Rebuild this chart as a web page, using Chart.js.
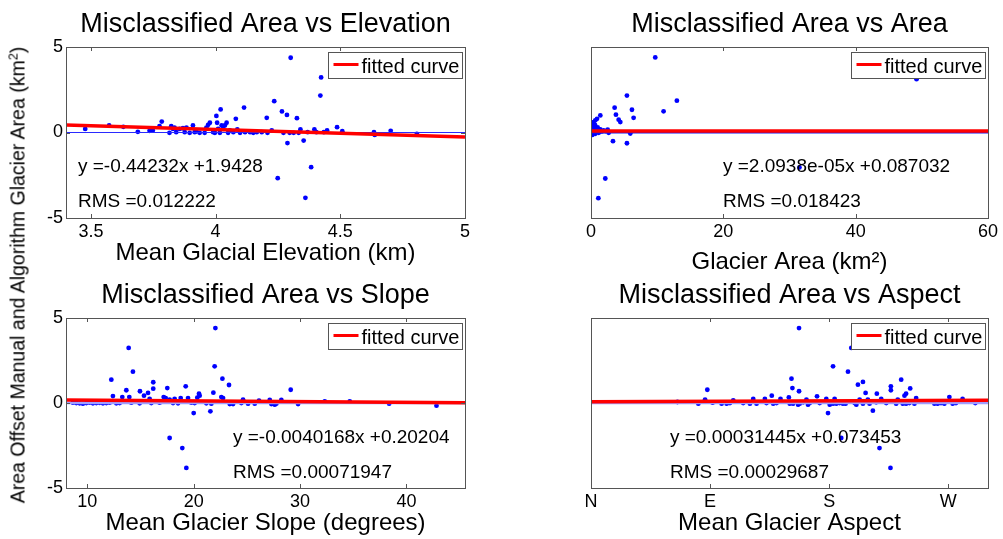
<!DOCTYPE html>
<html lang="en">
<head>
    <meta charset="UTF-8">
    <title>Misclassified Area</title>
    <script src="https://cdn.jsdelivr.net/npm/chart.js"></script>
    <style>
        body {
            margin: 0;
            background: #fff;
            font-family: "Liberation Sans", Arial, sans-serif;
        }
        .page {
            position: relative;
            width: 1003px;
            height: 539px;
            overflow: hidden;
        }
        .page canvas {
            position: absolute;
            left: 0;
            top: 0;
        }
        .ylabel {
            position: absolute;
            left: 18px;
            top: 275px;
            transform: translate(-50%, -50%) rotate(-90deg);
            white-space: nowrap;
            font-size: 19.5px;
            color: #000;
        }
        .ylabel sup { font-size: 0.65em; line-height: 0; }
    </style>
</head>
<body>
<div class="page">
    <canvas id="elev" width="1003" height="539"></canvas>
    <canvas id="area" width="1003" height="539"></canvas>
    <canvas id="slope" width="1003" height="539"></canvas>
    <canvas id="aspect" width="1003" height="539"></canvas>
    <div class="ylabel">Area Offset Manual and Algorithm Glacier Area (km<sup>2</sup>)</div>
</div>
<script>
// ---- data ----
const yTicks = [-5, 0, 5];

const elevTicks = [3.5, 4, 4.5, 5];
const elevX = [3.477,3.573,3.63,3.688,3.735,3.748,3.775,3.784,3.815,3.822,
    3.829,3.835,3.842,3.856,3.869,3.876,3.883,3.896,3.909,3.916,
    3.923,3.936,3.956,3.963,3.97,3.977,3.99,3.997,4.003,4.006,
    4.01,4.017,4.02,4.024,4.03,4.037,4.044,4.05,4.057,4.071,
    4.081,4.087,4.098,4.114,4.118,4.138,4.151,4.165,4.185,4.205,
    4.208,4.225,4.235,4.249,4.266,4.272,4.286,4.288,4.297,4.301,
    4.313,4.326,4.333,4.34,4.353,4.36,4.369,4.383,4.396,4.404,
    4.42,4.423,4.434,4.447,4.487,4.508,4.635,4.638,4.702,4.807];
const elevY = [0.21,0.41,0.33,0.04,0.10,0.12,0.37,0.64,-0.02,0.37,
    0.21,0.29,0.02,0.21,0.25,0.02,0.29,-0.02,0.41,0.02,
    0.06,-0.02,-0.02,0.29,0.45,0.57,0.02,-0.02,0.97,0.57,
    0.21,-0.02,1.35,0.41,0.21,0.41,0.57,-0.02,0.12,0.02,
    0.8,0.18,-0.02,1.46,0.02,0.02,-0.02,0.02,0.02,0.86,
    -0.02,0.12,1.83,-2.67,1.23,-0.02,1.03,-0.62,-0.02,4.37,
    -0.02,0.84,-0.02,0.18,-0.47,-3.82,0.02,-2.03,0.18,0.02,
    2.16,3.22,0.02,0.12,0.31,0.08,0.02,-0.14,0.1,-0.08];
const elevFitX = [3.4, 5];
const elevFitY = [0.439, -0.269];

const areaTicks = [0, 20, 40, 60];
const areaX = [9.71,5.43,12.98,3.57,6.19,10.97,3.77,6.44,4.18,4.43,
    1.41,0.91,0.65,0.4,0.5,0.3,0.15,0.91,1.16,1.41,
    1.91,2.52,2.67,1.16,0.02,0.2,0.65,0.05,0.4,0.8,
    1.66,5.94,3.32,5.43,2.16,1.11,31.5,49.2,
    0.25,0.6,0.35,1.0,0.75,0.1,1.3,2.2];
const areaY = [4.39,2.16,1.86,1.45,1.33,1.24,1.04,0.86,0.75,0.61,
    1.0,0.8,0.71,0.61,0.41,0.31,0.22,0.22,0.12,0.18,
    0.12,0.16,-0.02,-0.02,0.02,-0.14,-0.08,0.12,0.02,0.06,
    0.06,-0.06,-0.51,-0.63,-2.69,-3.84,-2.04,3.12,
    0.5,0.45,-0.05,0.3,0.15,-0.06,0.04,0.08];
const areaFitX = [0, 60];
const areaFitY = [0.087, 0.088];

const slopeTicks = [10, 20, 30, 40];
const slopeX = [22.04,13.89,14.29,21.97,12.26,22.7,23.32,16.2,16.2,17.52,
    19.25,13.67,14.95,15.71,21.85,20.5,29.12,12.41,13.29,13.95,
    15.33,15.86,17.18,17.37,17.74,18.21,18.78,19.47,20.34,20.56,
    22.6,22.76,24.64,26.14,27.15,28.24,
    8.65,8.97,9.28,9.59,9.91,10.22,10.53,10.85,11.16,11.47,
    11.79,12.1,12.73,13.04,14.14,14.92,16.02,16.8,18.06,18.53,
    19.78,20.09,21.19,21.66,23.39,23.7,24.48,25.11,25.74,27.3,
    27.62,27.77,29.81,32.32,34.67,38.37,42.82,
    20.0,21.57,17.74,18.93,19.31];
const slopeY = [4.41,3.24,1.84,2.16,1.37,1.43,1.06,1.22,0.84,0.88,
    0.98,0.75,0.69,0.59,0.61,0.55,0.78,0.41,0.35,0.35,
    0.43,0.24,0.35,0.29,0.2,0.24,0.29,0.29,0.31,0.43,
    0.35,0.29,0.2,0.14,0.18,0.18,
    0.02,0,-0.02,-0.04,0,0.02,-0.02,0,0.01,-0.02,
    0,0.02,-0.02,0,0.02,-0.02,0,0.02,0,-0.02,
    0.02,0,-0.02,-0.04,-0.06,-0.06,0,-0.04,-0.04,-0.06,
    -0.1,-0.04,-0.06,0.1,0.1,-0.04,-0.16,
    -0.59,-0.49,-2.06,-2.65,-3.82];
const slopeFitX = [8, 45.5];
const slopeFitY = [0.17, 0.02];

const aspectTicks = [0, 90, 180, 270];
const aspectLabels = ['N', 'E', 'S', 'W'];
const aspectX = [157.2,196.7,182.9,194.2,151.5,152.2,87.9,157.2,201.7,205.5,
    207.5,216,226.6,226.6,234.4,236.9,238.1,241.2,245.7,270.8,
    280.8,170.8,136.6,149.5,143.2,131.4,122.6,107.5,86.2,
    179.1,213,189.1,218,226.3,
    65.3,81.1,91.9,98.7,102.5,105,115,120.1,125.1,132.6,
    137.7,140.2,150.2,152.7,156.5,157.7,160.3,162.8,164,165.3,
    172.8,177.8,180.4,182.9,184.1,185.4,187.9,190.4,192.4,199.2,
    200.5,203,205.5,209.2,210.5,215.5,219.3,223.1,230.6,231.8,
    235.6,238.1,240.6,244.4,259.5,262,264.5,267,273.3,275.8,
    290.4];
const aspectY = [4.41,3.24,2.16,1.84,1.43,0.88,0.78,0.69,1.08,1.24,
    0.59,0.55,0.98,0.75,1.37,0.43,0.55,0.86,0.29,0.35,
    0.24,0.39,0.43,0.33,0.24,0.24,0.24,0.16,0.2,
    -0.59,-0.45,-2.06,-2.65,-3.82,
    0.06,-0.04,0.02,-0.04,-0.04,0,0,-0.04,-0.04,0,
    -0.04,0,-0.04,-0.04,-0.1,-0.04,0.04,0.2,-0.1,0,
    0,0.24,-0.1,-0.04,0.24,-0.04,0,-0.04,-0.04,0,
    -0.1,0.2,-0.04,0.2,-0.04,0.04,0.24,0,-0.04,0.2,
    -0.04,-0.04,0,-0.04,-0.04,-0.04,0,-0.04,-0.04,0,
    0];
const aspectFitX = [0, 300];
const aspectFitY = [0.073, 0.168];

// ---- drawing ----
const FONT = '"Liberation Sans", Arial, sans-serif';
Chart.defaults.font.family = FONT;
Chart.defaults.color = '#000';

const pts = (xs, ys) => xs.map((x, i) => ({ x: x, y: ys[i] }));

// box, inward ticks, fit text and the legend, MATLAB style
function axesPlugin(cfg) {
    return {
        id: 'matlabAxes',
        afterDatasetsDraw(chart) {
            const { ctx, chartArea: a, scales } = chart;
            ctx.save();
            ctx.strokeStyle = '#555';
            ctx.lineWidth = 1;
            ctx.beginPath();
            scales.x.ticks.forEach(t => {
                const px = Math.round(scales.x.getPixelForValue(t.value)) + 0.5;
                ctx.moveTo(px, a.bottom); ctx.lineTo(px, a.bottom - 4);
                ctx.moveTo(px, a.top); ctx.lineTo(px, a.top + 4);
            });
            if (cfg.yTickMarks) {
                scales.y.ticks.forEach(t => {
                    const py = Math.round(scales.y.getPixelForValue(t.value)) + 0.5;
                    ctx.moveTo(a.left, py); ctx.lineTo(a.left + 4, py);
                    ctx.moveTo(a.right, py); ctx.lineTo(a.right - 4, py);
                });
            }
            ctx.stroke();
            ctx.strokeRect(Math.round(a.left) + 0.5, Math.round(a.top) + 0.5,
                Math.round(a.width), Math.round(a.height));

            // equation + RMS
            ctx.fillStyle = '#000';
            ctx.font = '19px ' + FONT;
            ctx.textBaseline = 'alphabetic';
            ctx.textAlign = 'left';
            cfg.notes.forEach((s, i) => ctx.fillText(s, a.left + cfg.noteDx, a.top + 125 + i * 35));

            // legend
            const lx = Math.round(a.right - 137) + 0.5, ly = Math.round(a.top + 5) + 0.5;
            ctx.fillStyle = '#fff';
            ctx.fillRect(lx, ly, 134, 26);
            ctx.strokeStyle = '#555';
            ctx.strokeRect(lx, ly, 134, 26);
            ctx.strokeStyle = '#ff0000';
            ctx.lineWidth = 3;
            ctx.beginPath();
            ctx.moveTo(lx + 5, ly + 12); ctx.lineTo(lx + 30, ly + 12);
            ctx.stroke();
            ctx.fillStyle = '#000';
            ctx.font = '20px ' + FONT;
            ctx.fillText('fitted curve', lx + 33, ly + 20);
            ctx.restore();
        }
    };
}

function makeChart(id, c) {
    new Chart(document.getElementById(id), {
        type: 'scatter',
        data: {
            datasets: [
                { data: pts(c.fitX, c.fitY), showLine: true, borderColor: '#ff0000', borderWidth: 3.5,
                  pointRadius: 0, order: 0 },
                { data: pts([c.min, c.max], [0, 0]), showLine: true, borderColor: c.zeroColor,
                  borderWidth: c.zeroWidth, pointRadius: 0, order: 1 },
                { data: pts(c.xs, c.ys), pointRadius: 2.4, pointBackgroundColor: '#0000ff',
                  pointBorderWidth: 0, order: 2 }
            ]
        },
        options: {
            responsive: false,
            animation: false,
            events: [],
            layout: { padding: c.pad },
            plugins: {
                legend: { display: false },
                tooltip: { enabled: false },
                title: {
                    display: true, text: c.title, fullSize: false,
                    font: { size: 27, weight: 'normal', lineHeight: 1.2 },
                    color: '#000', padding: { top: 8, bottom: 6.6 }
                }
            },
            scales: {
                x: {
                    type: 'linear', min: c.min, max: c.max,
                    afterBuildTicks: s => { s.ticks = c.ticks.map(v => ({ value: v })); },
                    afterFit: s => { s.height = c.xh; },
                    ticks: {
                        font: { size: 18 }, color: '#000', padding: 3, maxRotation: 0,
                        callback: c.tickLabel || (v => String(v))
                    },
                    grid: { display: false, drawTicks: false },
                    border: { display: false },
                    title: {
                        display: true, text: c.xlabel, color: '#000',
                        font: { size: 24, lineHeight: 1.2 },
                        padding: { top: 0, bottom: c.xtPad }
                    }
                },
                y: {
                    type: 'linear', min: -5, max: 5,
                    afterBuildTicks: s => { s.ticks = yTicks.map(v => ({ value: v })); },
                    afterFit: s => { s.width = c.yw; },
                    ticks: { display: c.yLabels, font: { size: 18 }, color: '#000', padding: 3 },
                    grid: { display: false, drawTicks: false },
                    border: { display: false }
                }
            }
        },
        plugins: [axesPlugin({ notes: c.notes, noteDx: c.noteDx, yTickMarks: c.yLabels })]
    });
}

makeChart('elev', {
    title: 'Misclassified Area vs Elevation', xlabel: 'Mean Glacial Elevation (km)',
    xs: elevX, ys: elevY, fitX: elevFitX, fitY: elevFitY, min: 3.4, max: 5, ticks: elevTicks,
    pad: { left: 26, top: 0, right: 538, bottom: 251 }, yw: 40, xh: 70, xtPad: 20.6, yLabels: true,
    zeroColor: '#2a2aff', zeroWidth: 1,
    notes: ['y =-0.44232x +1.9428', 'RMS =0.012222'], noteDx: 12
});
makeChart('area', {
    title: 'Misclassified Area vs Area', xlabel: 'Glacier Area (km²)',
    xs: areaX, ys: areaY, fitX: areaFitX, fitY: areaFitY, min: 0, max: 60, ticks: areaTicks,
    pad: { left: 581, top: 0, right: 15, bottom: 251 }, yw: 10, xh: 70, xtPad: 11, yLabels: false,
    zeroColor: '#1a1aee', zeroWidth: 2,
    notes: ['y =2.0938e-05x +0.087032', 'RMS =0.018423'], noteDx: 132
});
makeChart('slope', {
    title: 'Misclassified Area vs Slope', xlabel: 'Mean Glacier Slope (degrees)',
    xs: slopeX, ys: slopeY, fitX: slopeFitX, fitY: slopeFitY, min: 8, max: 45.5, ticks: slopeTicks,
    pad: { left: 26, top: 271, right: 538, bottom: 0 }, yw: 40, xh: 51, xtPad: 1.5, yLabels: true,
    zeroColor: '#a0a0ff', zeroWidth: 2.5,
    notes: ['y =-0.0040168x +0.20204', 'RMS =0.00071947'], noteDx: 167
});
makeChart('aspect', {
    title: 'Misclassified Area vs Aspect', xlabel: 'Mean Glacier Aspect',
    xs: aspectX, ys: aspectY, fitX: aspectFitX, fitY: aspectFitY, min: 0, max: 300, ticks: aspectTicks,
    tickLabel: v => aspectLabels[aspectTicks.indexOf(v)],
    pad: { left: 581, top: 271, right: 15, bottom: 0 }, yw: 10, xh: 51, xtPad: 1.5, yLabels: false,
    zeroColor: '#a0a0ff', zeroWidth: 2.5,
    notes: ['y =0.00031445x +0.073453', 'RMS =0.00029687'], noteDx: 79
});
</script>
</body>
</html>
